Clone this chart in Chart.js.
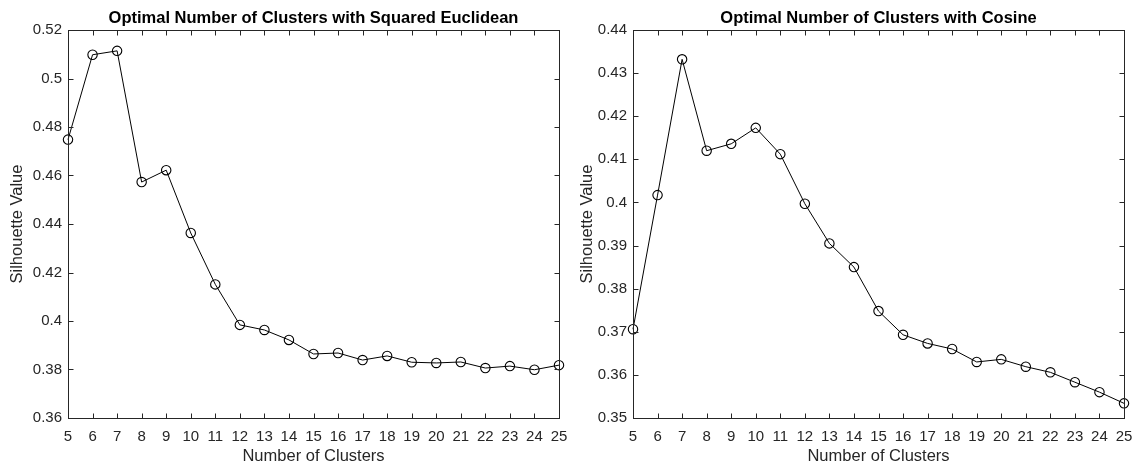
<!DOCTYPE html>
<html>
<head>
<meta charset="utf-8">
<script src="https://cdn.jsdelivr.net/npm/chart.js@4.4.1/dist/chart.umd.min.js"></script>
<style>
  body { margin: 0; background: #fff; }
  .row { display: flex; width: 1140px; height: 466px; }
  canvas { display: block; }
</style>
</head>
<body>
<div class="row">
  <canvas id="euclidChart" width="570" height="466"></canvas>
  <canvas id="cosineChart" width="570" height="466"></canvas>
</div>
<script>
const clusters = [5, 6, 7, 8, 9, 10, 11, 12, 13, 14, 15, 16, 17, 18, 19, 20, 21, 22, 23, 24, 25];

const euclidSilhouette = [0.4748, 0.5098, 0.5114, 0.4573, 0.4622, 0.4363, 0.4151, 0.3984, 0.3963, 0.3922,
  0.3864, 0.3868, 0.3839, 0.3856, 0.3830, 0.3827, 0.3831, 0.3806, 0.3814, 0.3799, 0.3818];
const cosineSilhouette = [0.3706, 0.4017, 0.4332, 0.4120, 0.4136, 0.4173, 0.4112, 0.3997, 0.3905, 0.3850,
  0.3748, 0.3693, 0.3673, 0.3660, 0.3630, 0.3636, 0.3619, 0.3606, 0.3583, 0.3560, 0.3534];

const euclidTicks = [0.36, 0.38, 0.4, 0.42, 0.44, 0.46, 0.48, 0.5, 0.52];
const cosineTicks = [0.35, 0.36, 0.37, 0.38, 0.39, 0.4, 0.41, 0.42, 0.43, 0.44];

const FONT = "'Liberation Sans', Arial, Helvetica, sans-serif";
const INK = '#262626';
const TICK_LEN = 5;

const crisp = v => Math.round(v) + 0.5;

// boxed axes: full frame, inward tick marks on all four sides, title centred over the plot
const boxAxes = {
  id: 'boxAxes',
  afterDraw(chart, args, opts) {
    const { ctx, chartArea: a, scales } = chart;
    const l = crisp(a.left), r = crisp(a.right), t = crisp(a.top), b = crisp(a.bottom);
    ctx.save();
    ctx.strokeStyle = INK;
    ctx.lineWidth = 1;
    ctx.beginPath();
    scales.x.ticks.forEach((tk, i) => {
      const px = crisp(scales.x.getPixelForTick(i));
      ctx.moveTo(px, b); ctx.lineTo(px, b - TICK_LEN);
      ctx.moveTo(px, t); ctx.lineTo(px, t + TICK_LEN);
    });
    scales.y.ticks.forEach(tk => {
      const py = crisp(scales.y.getPixelForValue(tk.value));
      ctx.moveTo(l, py); ctx.lineTo(l + TICK_LEN, py);
      ctx.moveTo(r, py); ctx.lineTo(r - TICK_LEN, py);
    });
    ctx.stroke();
    ctx.strokeRect(l, t, r - l, b - t);

    ctx.fillStyle = '#000';
    ctx.font = 'bold 16.5px ' + FONT;
    ctx.textAlign = 'center';
    ctx.textBaseline = 'alphabetic';
    ctx.fillText(opts.text, (a.left + a.right) / 2, 22.5);
    ctx.restore();
  }
};

function makeChart(id, title, values, yTicks, yWidth, padRight) {
  return new Chart(document.getElementById(id), {
    type: 'line',
    data: {
      labels: clusters,
      datasets: [{
        data: values,
        borderColor: '#000',
        borderWidth: 1,
        pointRadius: 4.7,
        pointBorderWidth: 1.1,
        pointBorderColor: '#000',
        pointBackgroundColor: 'rgba(0,0,0,0)',
        tension: 0,
        clip: false
      }]
    },
    options: {
      responsive: false,
      animation: false,
      events: [],
      layout: { padding: { top: 30, right: padRight, left: 0, bottom: 0 } },
      plugins: {
        legend: { display: false },
        tooltip: { enabled: false },
        boxAxes: { text: title }
      },
      scales: {
        x: {
          type: 'category',
          offset: false,
          grid: { display: false, drawTicks: false },
          border: { display: false },
          ticks: { color: INK, font: { family: FONT, size: 15 }, padding: 10, maxRotation: 0, autoSkip: false },
          title: { display: true, text: 'Number of Clusters', color: INK, font: { family: FONT, size: 16.5 }, padding: { top: 0, bottom: 0 } },
          // keep the plot edge fixed; the end labels may hang over it
          afterFit: s => { s.height = 48; s.paddingLeft = 0; s.paddingRight = 0; }
        },
        y: {
          min: yTicks[0],
          max: yTicks[yTicks.length - 1],
          grid: { display: false, drawTicks: false },
          border: { display: false },
          afterBuildTicks: s => { s.ticks = yTicks.map(v => ({ value: v })); },
          ticks: { color: INK, font: { family: FONT, size: 15 }, padding: 6, callback: v => String(+v.toFixed(3)) },
          title: { display: true, text: 'Silhouette Value', color: INK, font: { family: FONT, size: 16.5 }, padding: { top: 8, bottom: 0 } },
          afterFit: s => { s.width = yWidth; s.paddingTop = 0; s.paddingBottom = 0; }
        }
      }
    },
    plugins: [boxAxes]
  });
}

makeChart('euclidChart', 'Optimal Number of Clusters with Squared Euclidean', euclidSilhouette, euclidTicks, 68, 11);
makeChart('cosineChart', 'Optimal Number of Clusters with Cosine', cosineSilhouette, cosineTicks, 63, 16);
</script>
</body>
</html>
